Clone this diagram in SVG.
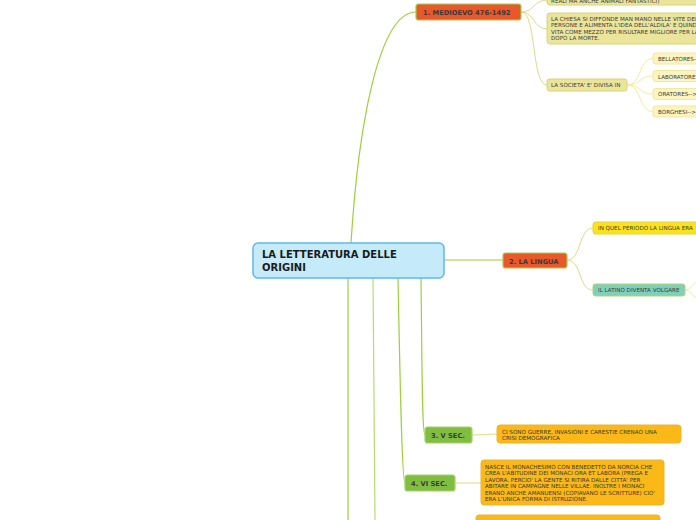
<svg xmlns="http://www.w3.org/2000/svg" width="696" height="520" viewBox="0 0 696 520">
<style>
text{font-family:"DejaVu Sans","Verdana",sans-serif;fill:#3a3a3a}
.t{font-weight:bold;font-size:6.7px}
.s{font-size:5.6px}
.c{font-size:10px;font-weight:bold;fill:#1a1a1a}
.main{fill:none;stroke:#9fcf3c;stroke-width:1.2}
.sub{fill:none;stroke:#dcdc8e;stroke-width:1}
.sub2{fill:none;stroke:#f6eca0;stroke-width:1}
.red{fill:#e8582a;stroke:#a5cc4e;stroke-width:1.2}
.grn{fill:#80bd40;stroke:#a6d36a;stroke-width:1.2}
.org{fill:#fbb816;stroke:#e9b43c;stroke-width:1}
.kha{fill:#ebe59c;stroke:#d8d27d;stroke-width:1}
.lyl{fill:#fdf4bf;stroke:#f4e7a0;stroke-width:1}
</style>
<g id="connectors">
<path class="main" d="M351,243 C358,130 378,12 416,12"/>
<path class="main" d="M444,260 L503,260"/>
<path class="main" d="M421,278 C422,360 422,435 425,435"/>
<path class="main" d="M398,278 C400,380 402,483 405,483"/>
<path class="main" d="M348,278 L348,520"/>
<path class="main" style="stroke:#b7db72" d="M373,278 L375,520"/>
<path class="sub" d="M521,12 C535,12 533,0 547,0"/>
<path class="sub" d="M521,12 C535,12 533,29 547,29"/>
<path class="sub" d="M521,12 C537,12 531,85 547,85"/>
<path class="sub2" d="M627,85 C642,85 638,58.5 653,58.5"/>
<path class="sub2" d="M627,85 C642,85 638,76 653,76"/>
<path class="sub2" d="M627,85 C642,85 638,94 653,94"/>
<path class="sub2" d="M627,85 C642,85 638,111.5 653,111.5"/>
<path class="sub" d="M567,260 C582,260 578,228 593,228"/>
<path class="sub" d="M567,260 C582,260 578,290 593,290"/>
<path class="sub2" d="M685,290 C690,290 692,284 697,282"/>
<path class="sub2" d="M685,290 C690,290 692,296 697,298"/>
<path class="sub" d="M472,435 L497,434"/>
<path class="sub" d="M455,483 L481,483"/>
</g>
<g id="center">
<rect x="253" y="243" width="191" height="35" rx="5" fill="#c5eafa" stroke="#5cbbe8" stroke-width="1.5"/>
<text class="c" x="262" y="258">LA LETTERATURA DELLE</text>
<text class="c" x="262" y="270.5">ORIGINI</text>
</g>
<g id="n1">
<rect class="red" x="416" y="4" width="105" height="16" rx="2.5"/>
<text class="t" x="423" y="15">1. MEDIOEVO 476-1492</text>
</g>
<g id="n1a">
<rect class="kha" x="547" y="-10" width="160" height="15" rx="3"/>
<text class="s" x="551" y="3">REALI MA ANCHE ANIMALI FANTASTICI)</text>
</g>
<g id="n1b">
<rect class="kha" x="547" y="13" width="160" height="31" rx="3"/>
<text class="s" x="551" y="20.5">LA CHIESA SI DIFFONDE MAN MANO NELLE VITE DELLE</text>
<text class="s" x="551" y="27">PERSONE E ALIMENTA L'IDEA DELL'ALDILA' E QUINDI LA</text>
<text class="s" x="551" y="33.5">VITA COME MEZZO PER RISULTARE MIGLIORE PER LA VITA</text>
<text class="s" x="551" y="40">DOPO LA MORTE.</text>
</g>
<g id="n1c">
<rect class="kha" x="547" y="79" width="80" height="12" rx="2.5"/>
<text class="s" x="551" y="87">LA SOCIETA' E' DIVISA IN</text>
</g>
<g id="n1c1">
<rect class="lyl" x="653" y="53" width="60" height="11" rx="2.5"/>
<text class="s" x="658" y="61">BELLATORES--&gt;</text>
</g>
<g id="n1c2">
<rect class="lyl" x="653" y="70.5" width="60" height="11" rx="2.5"/>
<text class="s" x="658" y="78.5">LABORATORES--&gt;</text>
</g>
<g id="n1c3">
<rect class="lyl" x="653" y="88.5" width="60" height="11" rx="2.5"/>
<text class="s" x="658" y="96.3">ORATORES--&gt;</text>
</g>
<g id="n1c4">
<rect class="lyl" x="653" y="106" width="60" height="11" rx="2.5"/>
<text class="s" x="658" y="113.8">BORGHESI--&gt;</text>
</g>
<g id="n2">
<rect class="red" x="503" y="253" width="64" height="15" rx="2.5"/>
<text class="t" x="509" y="263.5">2. LA LINGUA</text>
</g>
<g id="n2a">
<rect x="593" y="222" width="120" height="12" rx="2.5" fill="#fbe31a" stroke="#e6d23c" stroke-width="1"/>
<text class="s" x="598" y="230">IN QUEL PERIODO LA LINGUA ERA</text>
</g>
<g id="n2b">
<rect x="593" y="284" width="92" height="12" rx="2.5" fill="#7fd0bb" stroke="#b5d36c" stroke-width="1"/>
<text class="s" x="598" y="292">IL LATINO DIVENTA VOLGARE</text>
</g>
<g id="n3">
<rect class="grn" x="425" y="427" width="47" height="16" rx="2.5"/>
<text class="t" x="431" y="438">3. V SEC.</text>
</g>
<g id="n3a">
<rect class="org" x="497" y="425" width="184" height="18" rx="3"/>
<text class="s" x="502" y="433.5">CI SONO GUERRE, INVASIONI E CARESTIE CRENAO UNA</text>
<text class="s" x="502" y="440">CRISI DEMOGRAFICA</text>
</g>
<g id="n4">
<rect class="grn" x="405" y="475" width="50" height="16" rx="2.5"/>
<text class="t" x="411" y="486">4. VI SEC.</text>
</g>
<g id="n4a">
<rect class="org" x="481" y="460" width="183" height="45" rx="3"/>
<text class="s" x="485" y="468.5">NASCE IL MONACHESIMO CON BENEDETTO DA NORCIA CHE</text>
<text class="s" x="485" y="475">CREA L'ABITUDINE DEI MONACI ORA ET LABORA (PREGA E</text>
<text class="s" x="485" y="481.5">LAVORA. PERCIO' LA GENTE SI RITIRA DALLE CITTA' PER</text>
<text class="s" x="485" y="488">ABITARE IN CAMPAGNE NELLE VILLAE. INOLTRE I MONACI</text>
<text class="s" x="485" y="494.5">ERANO ANCHE AMANUENSI (COPIAVANO LE SCRITTURE) CIO'</text>
<text class="s" x="485" y="501">ERA L'UNICA FORMA DI ISTRUZIONE.</text>
</g>
<g id="n5a">
<rect class="org" x="476" y="515" width="184" height="20" rx="3"/>
</g>
</svg>
